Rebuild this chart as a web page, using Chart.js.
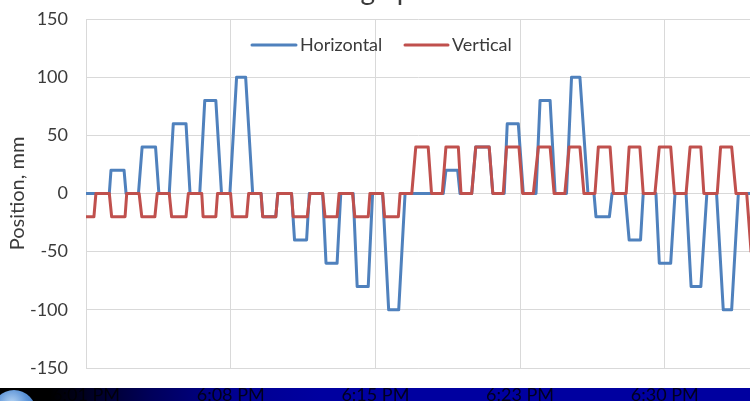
<!DOCTYPE html>
<html>
<head>
<meta charset="utf-8">
<script src="https://cdn.jsdelivr.net/npm/chart.js@4.4.1/dist/chart.umd.min.js"></script>
<style>
  html, body { margin: 0; padding: 0; background: #ffffff; overflow: hidden; width: 750px; height: 401px; }
  #wrap { position: relative; width: 750px; height: 401px; overflow: hidden; }
  #c { position: absolute; left: 0; top: -30px; }
  #band { position: absolute; left: 0; top: 388px; width: 750px; height: 13px; mix-blend-mode: multiply;
          background: linear-gradient(to right, #000000 0px, #000000 50px, #00005a 150px, #000090 230px, #0000a0 320px, #0000a0 750px); z-index: 2; }
  #globe { position: absolute; left: -8px; top: 390px; width: 44px; height: 44px; border-radius: 50%;
           background: radial-gradient(circle at 45% 30%, #b5d4f4 0%, #5a92d6 40%, #1d4f9a 100%); z-index: 3; }
</style>
</head>
<body>
<div id="wrap">
  <canvas id="c" width="750" height="431"></canvas>
  <div id="band"></div>
  <div id="globe"></div>
</div>
<script>
// ---- Data (time in seconds after 6:00:00 PM, position in mm) ----
const horizontalSec = [80,156,161,200,206,243,254,294,304,335,347,385,397,426,441,474,491,516,536,563,584,609,614,653,659,700,709,745,753,793,803,836,847,884,896,929,942,972,990,1020,1039,1153,1161,1196,1203,1238,1250,1290,1301,1335,1344,1377,1392,1430,1442,1472,1487,1521,1536,1561,1585,1603,1609,1649,1657,1696,1708,1742,1750,1788,1798,1832,1845,1878,1893,1922,1940,1969,1989,2014,2034,2080];
const horizontalMm = [0,0,20,20,0,0,40,40,0,0,60,60,0,0,80,80,0,0,100,100,0,0,-20,-20,0,0,-40,-40,0,0,-60,-60,0,0,-80,-80,0,0,-100,-100,0,0,20,20,0,0,40,40,0,0,60,60,0,0,80,80,0,0,100,100,0,0,-20,-20,0,0,-40,-40,0,0,-60,-60,0,0,-80,-80,0,0,-100,-100,0,0];

const verticalSec = [80,110,116,156,163,203,208,245,253,292,299,335,342,385,392,432,436,474,479,518,524,566,572,609,614,653,659,700,705,747,755,793,800,836,842,882,889,929,934,972,978,1019,1024,1059,1071,1108,1118,1150,1161,1198,1206,1238,1250,1290,1301,1332,1342,1379,1390,1422,1437,1472,1484,1516,1529,1561,1573,1606,1616,1651,1661,1699,1708,1740,1750,1785,1798,1832,1843,1878,1890,1922,1931,1971,1981,2014,2027,2059,2072];
const verticalMm = [-20,-20,0,0,-20,-20,0,0,-20,-20,0,0,-20,-20,0,0,-20,-20,0,0,-20,-20,0,0,-20,-20,0,0,-20,-20,0,0,-20,-20,0,0,-20,-20,0,0,-20,-20,0,0,40,40,0,0,40,40,0,0,40,40,0,0,40,40,0,0,40,40,0,0,40,40,0,0,40,40,0,0,40,40,0,0,40,40,0,0,40,40,0,0,40,40,0,0,-50];

const timeTickSec = [86.4, 518.4, 950.4, 1382.4, 1814.4];
const timeTickLabels = ['6:01 PM', '6:08 PM', '6:15 PM', '6:23 PM', '6:30 PM'];
const seriesNames = ['Horizontal', 'Vertical'];
const chartTitle = 'Stage position';
const yAxisTitle = 'Position, mm';

const BLUE = '#4f81bd';
const RED = '#c0504d';
const TEXT = '#3a3a3a';
const FONT = 'Lato';

const toPoints = (xs, ys) => xs.map((x, i) => ({ x: x, y: ys[i] }));

const overlayPlugin = {
  id: 'overlay',
  afterDatasetsDraw(chart) {
    const ctx = chart.ctx;
    ctx.save();
    // Title (mostly cropped off at the top)
    ctx.fillStyle = TEXT;
    ctx.font = '28px ' + FONT;
    ctx.textAlign = 'center';
    ctx.textBaseline = 'alphabetic';
    ctx.fillText(chartTitle, 409, 30);
    // Legend inside plot area
    const items = [
      { name: seriesNames[0], color: chart.data.datasets[0].borderColor, x0: 252, x1: 296 },
      { name: seriesNames[1], color: chart.data.datasets[1].borderColor, x0: 405, x1: 448 }
    ];
    const ly = 75;
    ctx.font = '18px ' + FONT;
    ctx.textAlign = 'left';
    ctx.textBaseline = 'middle';
    items.forEach(it => {
      ctx.strokeStyle = it.color;
      ctx.lineWidth = 3;
      ctx.lineCap = 'round';
      ctx.beginPath();
      ctx.moveTo(it.x0, ly);
      ctx.lineTo(it.x1, ly);
      ctx.stroke();
      ctx.fillStyle = TEXT;
      ctx.fillText(it.name, it.x1 + 4, ly);
    });
    ctx.restore();
  }
};

new Chart(document.getElementById('c'), {
  type: 'line',
  data: {
    datasets: [
      { label: seriesNames[0], data: toPoints(horizontalSec, horizontalMm), borderColor: BLUE, backgroundColor: BLUE, order: 1 },
      { label: seriesNames[1], data: toPoints(verticalSec, verticalMm), borderColor: RED, backgroundColor: RED, order: 0 }
    ]
  },
  options: {
    responsive: false,
    animation: false,
    devicePixelRatio: 1,
    layout: { padding: { top: 49, right: 0, bottom: 0, left: 0 } },
    elements: {
      point: { radius: 0, hoverRadius: 0 },
      line: { borderWidth: 3, tension: 0, borderJoinStyle: 'round', borderCapStyle: 'round' }
    },
    plugins: { legend: { display: false }, title: { display: false }, tooltip: { enabled: false } },
    scales: {
      x: {
        type: 'linear',
        min: 86.4,
        max: 2068.8,
        afterBuildTicks: s => { s.ticks = timeTickSec.map(v => ({ value: v })); },
        afterFit: s => { s.height = 33; },
        ticks: {
          autoSkip: false, maxRotation: 0, minRotation: 0,
          padding: 16,
          color: '#333333',
          font: { family: FONT, size: 18 },
          callback: (v, i) => timeTickLabels[i]
        },
        grid: { color: '#d9d9d9', lineWidth: 1, drawTicks: false },
        border: { color: '#d9d9d9' }
      },
      y: {
        min: -150,
        max: 150,
        afterFit: s => { s.width = 86; },
        ticks: { stepSize: 50, padding: 18, color: TEXT, font: { family: FONT, size: 18 } },
        grid: { color: '#d9d9d9', lineWidth: 1, drawTicks: false },
        border: { color: '#d9d9d9' },
        title: { display: true, text: yAxisTitle, color: TEXT, font: { family: FONT, size: 20 }, padding: { top: 6, bottom: 0 } }
      }
    }
  },
  plugins: [overlayPlugin]
});
</script>
</body>
</html>
